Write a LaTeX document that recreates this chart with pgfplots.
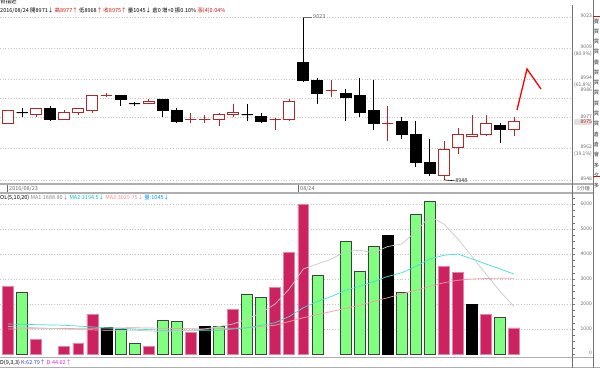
\documentclass[border=0pt]{standalone}
\usepackage{fontspec}
\setmainfont{Noto Sans CJK TC}
\usepackage{pgfplots}
\pgfplotsset{compat=1.18}
\usepgfplotslibrary{statistics}
\definecolor{upred}{RGB}{178,40,40}
\definecolor{txtred}{RGB}{200,20,20}
\definecolor{volred}{RGB}{204,34,96}
\definecolor{volgreen}{RGB}{128,255,128}
\definecolor{gridc}{RGB}{195,195,195}
\definecolor{sepc}{RGB}{175,175,175}
\definecolor{lblc}{RGB}{105,105,105}
\definecolor{maone}{RGB}{200,200,200}
\definecolor{matwo}{RGB}{64,224,208}
\definecolor{mathree}{RGB}{240,160,160}
\definecolor{matwotxt}{RGB}{0,200,170}
\definecolor{volblue}{RGB}{0,150,255}
\definecolor{kblue}{RGB}{60,60,200}
\definecolor{dmag}{RGB}{230,30,230}
\pgfplotsset{
  up/.style={draw=upred, fill=white, line width=0.8pt},
  dn/.style={draw=black, fill=black, line width=0.8pt},
  every axis/.append style={boxplot/draw direction=y, boxplot/box extend=0.78, boxplot/whisker extend=0},
}
\newcommand{\cdl}[6]{\addplot[#1, boxplot prepared={draw position=#2, lower whisker=#3, lower quartile=#4, median=#4, upper quartile=#5, upper whisker=#6}] coordinates {};}
\begin{document}
\begin{tikzpicture}[font=\fontsize{5.5}{6}\selectfont]
\useasboundingbox (0pt,0pt) rectangle (600pt,-368pt);
% ---------- price panel ----------
\begin{axis}[at={(0pt,-6pt)}, anchor=north west, scale only axis, width=572pt, height=178pt,
  xmin=0.431, xmax=41.11, ymin=8946.1, ymax=9028.0, hide axis, clip=false]
\foreach \g in {9023,9008.7,8994.4,8985.5,8976.7,8962.3,8948}{
  \edef\tmp{\noexpand\draw[gridc, dotted, line width=0.7pt] (axis cs:0.431,\g) -- (axis cs:41.11,\g);}\tmp}
\cdl{up}{1}{8974}{8974}{8980}{8980}
\cdl{dn}{2}{8977}{8979}{8979}{8981}
\cdl{up}{3}{8977}{8978}{8981}{8981}
\cdl{dn}{4}{8975}{8976}{8981}{8982}
\cdl{up}{5}{8976}{8976}{8979}{8980}
\cdl{up}{6}{8978}{8979}{8981}{8981}
\cdl{up}{7}{8979}{8980}{8987}{8987}
\cdl{up}{8}{8986}{8987}{8987}{8988}
\cdl{dn}{9}{8982}{8985}{8987}{8987}
\cdl{dn}{10}{8982}{8983}{8983}{8984}
\cdl{up}{11}{8983}{8983}{8984}{8985}
\cdl{dn}{12}{8977}{8980}{8985}{8985}
\cdl{dn}{13}{8974}{8975}{8980}{8981}
\cdl{up}{14}{8974}{8976}{8976}{8979}
\cdl{up}{15}{8974}{8976}{8976}{8978}
\cdl{up}{16}{8973}{8976}{8978}{8979}
\cdl{up}{17}{8977}{8978}{8979}{8983}
\cdl{dn}{18}{8975}{8978}{8978}{8983}
\cdl{dn}{19}{8974}{8975}{8977}{8979}
\cdl{up}{20}{8971}{8976}{8976}{8976.4}
\cdl{up}{21}{8975}{8976}{8984}{8985}
\cdl{dn}{22}{8993}{8994}{9002}{9023}
\cdl{dn}{23}{8983}{8988}{8994}{8995}
\cdl{up}{24}{8986}{8989}{8989}{8994}
\cdl{dn}{25}{8975}{8986}{8988}{8990}
\cdl{dn}{26}{8977}{8979}{8987}{8995}
\cdl{dn}{27}{8971}{8974}{8980}{8994}
\cdl{up}{28}{8966}{8974}{8974}{8982}
\cdl{dn}{29}{8967}{8969}{8975}{8977}
\cdl{dn}{30}{8954}{8956}{8969}{8975}
\cdl{dn}{31}{8950}{8951}{8956}{8967}
\cdl{up}{32}{8948}{8950}{8962}{8966}
\cdl{up}{33}{8960}{8963}{8969}{8972}
\cdl{up}{34}{8968}{8968}{8969}{8978}
\cdl{up}{35}{8968}{8969}{8974}{8978}
\cdl{dn}{36}{8965}{8971}{8973}{8974}
\cdl{up}{37}{8968}{8971}{8975}{8977}
\draw[lblc, line width=0.6pt] (axis cs:22,9023) -- (axis cs:22.65,9023) node[right, inner sep=0.5pt, text=lblc] {9023};
\draw[black, line width=0.6pt] (axis cs:32,8948) -- (axis cs:32.75,8947.6) node[right, inner sep=0.5pt, text=black!80] {8948};
\end{axis}
% ---------- volume panel ----------
\begin{axis}[at={(0pt,-197pt)}, anchor=north west, scale only axis, width=572pt, height=158pt,
  xmin=0.431, xmax=41.11, ymin=-40, ymax=6280, hide axis, clip=false]
\foreach \g in {1000,2000,3000,4000,5000,6000}{
  \edef\tmp{\noexpand\draw[gridc, dotted, line width=0.7pt] (axis cs:0.431,\g) -- (axis cs:41.11,\g);}\tmp}
\addplot[ybar, bar width=0.78, bar shift=0pt, fill=volred, draw=volred!55!white, line width=0.6pt] coordinates {
 (1,2700) (3,600) (5,320) (6,440) (7,1600) (11,320) (14,850) (17,1800) (20,2650) (21,4050) (22,6000) (32,3500) (33,3250) (35,1600) (37,1045)};
\addplot[ybar, bar width=0.78, bar shift=0pt, fill=volgreen, draw=black!75, line width=0.6pt] coordinates {
 (2,2450) (9,1000) (10,440) (12,1350) (13,1300) (16,1100) (18,2400) (19,2250) (23,3150) (25,4500) (26,3300) (27,4300) (29,2450) (30,5600) (31,6100) (36,1450)};
\addplot[ybar, bar width=0.78, bar shift=0pt, fill=black, draw=black, line width=0.6pt] coordinates {
 (8,1050) (15,1100) (28,4750) (34,2000)};
\addplot[mathree, line width=0.7pt] coordinates {
 (1,1000) (5,1020) (10,1050) (15,1000) (18,1050) (20,1150) (22,1450) (24,1700) (26,1950) (28,2250) (30,2550) (32,2850) (33,2950) (34,3000) (35,3020) (36,3030) (37,3029.75)};
\addplot[matwo, line width=0.7pt] coordinates {
 (1,1200) (5,1150) (8,1050) (12,950) (16,950) (18,1050) (20,1250) (21,1500) (22,1850) (23,2100) (24,2300) (25,2550) (26,2700) (27,2900) (28,3100) (29,3250) (30,3500) (31,3800) (32,3950) (33,4000) (34,3800) (35,3600) (36,3400) (37,3194.5)};
\addplot[maone, line width=0.7pt] coordinates {
 (1,1100) (3,1050) (5,1000) (8,950) (10,950) (12,900) (14,950) (15,1000) (16,1100) (17,1200) (18,1400) (19,1650) (20,2000) (21,2600) (22,3400) (23,3600) (24,3800) (25,4100) (26,4150) (27,4050) (28,4300) (29,4400) (30,4900) (31,5500) (32,5200) (33,4600) (34,3900) (35,3200) (36,2500) (37,1888.8)};
\end{axis}
% ---------- frame lines ----------
\draw[sepc, line width=1.6pt] (0pt,-184pt) -- (593pt,-184pt);
\draw[sepc, line width=1.2pt] (0pt,-193pt) -- (593pt,-193pt);
\draw[sepc, line width=1.4pt] (0pt,-357.5pt) -- (593pt,-357.5pt);
\draw[sepc, line width=1.2pt] (0pt,-367.5pt) -- (600pt,-367.5pt);
\draw[black!55, line width=0.8pt] (572pt,-5pt) -- (572pt,-368pt);
\draw[black!55, line width=0.8pt] (593pt,0pt) -- (593pt,-368pt);
\foreach \v in {0,250,...,6250}{\draw[black!55, line width=0.5pt] (572pt,{-(354-\v*0.025)*1pt}) -- ++(2.5pt,0pt);}
% ---------- right labels ----------
\begin{scope}[every node/.style={anchor=east, inner sep=0pt, text=lblc, font=\fontsize{5}{5}\selectfont}]
\node at (592pt,-16pt) {9023};
\node at (592pt,-47pt) {9009};
\node at (592pt,-53.5pt) {(80.9\%)};
\node at (592pt,-78pt) {8994};
\node at (592pt,-84.5pt) {(61.8\%)};
\node at (592pt,-89.5pt) {8986};
\node at (592pt,-117pt) {8977};
\node at (592pt,-147pt) {8962};
\node at (592pt,-153.5pt) {(19.1\%)};
\node at (592pt,-179pt) {8948};
\node at (592pt,-204pt) {6000};
\node at (592pt,-229pt) {5000};
\node at (592pt,-254pt) {4000};
\node at (592pt,-279pt) {3000};
\node at (592pt,-304pt) {2000};
\node at (592pt,-329pt) {1000};
\node at (592pt,-353pt) {0};
\node at (590pt,-189pt) {5分鐘};
\end{scope}
\fill[black!12, rounded corners=2pt] (574pt,-119pt) rectangle (592pt,-125pt);
\node[anchor=east, inner sep=0pt, text=txtred, font=\fontsize{5}{5}\selectfont] at (592pt,-122pt) {8975};
% right narrow column
\foreach \k/\c in {0/賣,1/買,2/買,3/買,4/賣,5/買,6/買,7/買,8/買,9/買,10/買,11/倉,12/倉,13/會,14/多,15/夕,16/多}{
  \node[inner sep=0pt, text=black!80, font=\fontsize{5.3}{5.3}\selectfont] at (596.6pt,{-(21+\k*10.3)*1pt}) {\c};}
\draw[txtred, line width=0.8pt] (593pt,-16pt) -- (600pt,-16pt);
\draw[txtred, line width=0.8pt] (593pt,-176pt) -- (600pt,-176pt);
% ---------- header texts ----------
\node[anchor=base west, inner sep=0pt] at (0pt,-3.5pt) {台指近};
\node[anchor=west, inner sep=0pt] at (0pt,-10.5pt) {2016/08/24 開8971↓ \textcolor{txtred}{高8977↑} 低8968\textcolor{txtred}{↑} \textcolor{txtred}{收8975↑} 量1045↓ 倉0 增+0 振0.10\% \textcolor{txtred}{漲(4)0.04\%}};
\draw[lblc, line width=0.5pt] (7pt,-185pt) -- (7pt,-192pt);
\node[anchor=west, inner sep=0pt, text=lblc] at (9pt,-188.5pt) {2016/08/23};
\draw[lblc, line width=0.5pt] (298pt,-185pt) -- (298pt,-192pt);
\node[anchor=west, inner sep=0pt, text=lblc] at (300pt,-188.5pt) {08/24};
\node[anchor=west, inner sep=0pt] at (0pt,-197.5pt) {OL(5,10,20) \textcolor{lblc!80}{MA1:1888.80↓} \textcolor{matwotxt}{MA2:3194.5↓} \textcolor{mathree!90!red}{MA3:3029.75↓} \textcolor{volblue}{量:1045↓}};
\node[anchor=west, inner sep=0pt] at (0pt,-362.5pt) {D(9,3,3) \textcolor{kblue}{K:62.79↑} \textcolor{dmag}{D:44.62↑}};
% ---------- red hand-drawn arrow ----------
\draw[red, line width=1.3pt] (517pt,-110pt) -- (527pt,-69pt) -- (541pt,-89pt);
\end{tikzpicture}
\end{document}
